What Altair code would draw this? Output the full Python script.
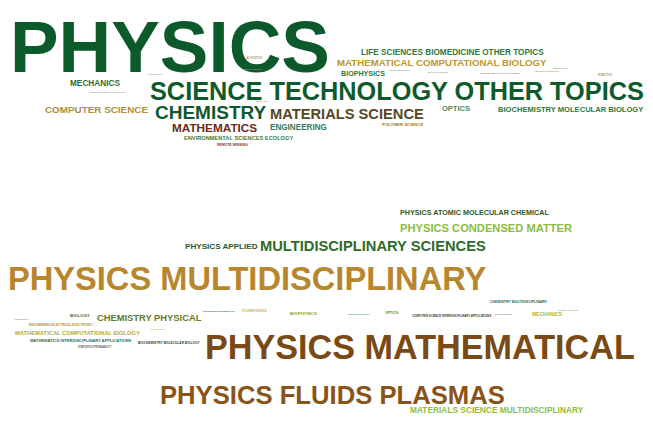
import altair as alt
import pandas as pd

# ---- data: words of the two word clouds and their colours ----
top_words = [
    "PHYSICS", "LIFE SCIENCES BIOMEDICINE OTHER TOPICS", "MATHEMATICAL COMPUTATIONAL BIOLOGY",
    "BIOPHYSICS", "MECHANICS", "SCIENCE TECHNOLOGY OTHER TOPICS", "COMPUTER SCIENCE",
    "CHEMISTRY", "MATERIALS SCIENCE", "OPTICS", "BIOCHEMISTRY MOLECULAR BIOLOGY",
    "MATHEMATICS", "ENGINEERING", "ENVIRONMENTAL SCIENCES ECOLOGY", "REMOTE SENSING",
    "POLYMER SCIENCE", "ACOUSTICS", "ASTRONOMY ASTROPHYSICS", "NUCLEAR SCIENCE TECHNOLOGY",
    "THERMODYNAMICS", "SPECTROSCOPY", "METALLURGY METALLURGICAL ENGINEERING",
    "CRYSTALLOGRAPHY", "METROLOGY", "ROBOTICS", "ENERGY FUELS", "IMAGING SCIENCE",
]
top_colors = [
    "#0c5a2b", "#2e7a3c", "#bf962f", "#2e7a3c", "#2f6e33", "#0f5a2c", "#a8913a",
    "#12582f", "#574822", "#4d8a5b", "#2c7a3c", "#6b2a1b", "#2f7a5e", "#3f7a3a",
    "#7a3a2a", "#a07a2a", "#9a9a80", "#9a9a80", "#9a8a6a", "#b0a070", "#8a9a7a",
    "#8a7a6a", "#b08a4a", "#8a8a6a", "#9a9a7a", "#b0a060", "#9a9a80",
]
bottom_words = [
    "PHYSICS ATOMIC MOLECULAR CHEMICAL", "PHYSICS CONDENSED MATTER", "PHYSICS APPLIED",
    "MULTIDISCIPLINARY SCIENCES", "PHYSICS MULTIDISCIPLINARY", "CHEMISTRY MULTIDISCIPLINARY",
    "BIOLOGY", "CHEMISTRY PHYSICAL", "ENGINEERING ELECTRICAL ELECTRONIC",
    "MATHEMATICAL COMPUTATIONAL BIOLOGY", "MATHEMATICS INTERDISCIPLINARY APPLICATIONS",
    "BIOCHEMISTRY MOLECULAR BIOLOGY", "STATISTICS PROBABILITY", "INSTRUMENTS INSTRUMENTATION",
    "POLYMER SCIENCE", "BIOPHYSICS", "OPTICS", "COMPUTER SCIENCE INTERDISCIPLINARY APPLICATIONS",
    "MECHANICS", "PHYSICS MATHEMATICAL", "PHYSICS FLUIDS PLASMAS",
    "MATERIALS SCIENCE MULTIDISCIPLINARY", "THERMODYNAMICS", "NUCLEAR SCIENCE TECHNOLOGY",
    "ACOUSTICS", "ASTRONOMY ASTROPHYSICS", "MATERIALS SCIENCE COATINGS FILMS", "ELECTROCHEMISTRY",
]
bottom_colors = [
    "#2f5a1f", "#8cbd40", "#1f5a2b", "#2e6a2b", "#b8862c", "#2a6a5a", "#5a6a2a",
    "#617a2b", "#c08a3a", "#b4ad35", "#2a6a5a", "#2a4a3a", "#6a5a3a", "#2a6a6a",
    "#c8b03a", "#8aa02a", "#3a8a3a", "#3a3a2a", "#a8b82a", "#7a4a16", "#8a5418",
    "#8cbd40", "#c8b03a", "#2a7a7a", "#8a8a7a", "#7a9a5a", "#9aa06a", "#6a8a6a",
]

# ---- layout of the clouds: box of each word in page pixels (left, right, top, bottom) ----
top_x0 = [10, 361, 337, 341, 70, 150, 45, 155, 270, 442, 498, 172, 270, 184, 217, 382,
          246, 243, 90, 148, 390, 480, 535, 554, 598, 256, 428]
top_x1 = [330, 544, 550, 385, 120, 645, 148, 267, 425, 470, 644, 259, 327, 294, 248, 424,
          262, 262, 126, 162, 410, 520, 560, 568, 612, 268, 448]
top_t = [16, 49, 58, 70, 80, 82, 105, 104, 108, 106, 106, 122, 123, 135, 143, 122,
         57, 68, 91, 73, 69, 71, 70, 67, 74, 100, 71]
top_b = [75, 56, 67, 76, 87, 100, 113, 120, 120, 111, 113, 133, 131, 140, 146, 126,
         60, 71, 94, 76, 72, 74, 73, 70, 77, 103, 74]

bottom_x0 = [400, 400, 185, 260, 8, 490, 70, 97, 29, 15, 30, 138, 78, 203, 242, 290, 385,
             412, 532, 205, 160, 410, 150, 348, 14, 558, 268, 495]
bottom_x1 = [550, 573, 258, 488, 490, 548, 90, 202, 93, 142, 133, 200, 112, 235, 267, 317,
             398, 492, 562, 640, 505, 585, 165, 370, 28, 578, 280, 512]
bottom_t = [207, 220, 241, 233, 258, 299, 312, 310, 322, 328, 338, 341, 346, 309, 309, 310,
            310, 313, 310, 318, 378, 406, 328, 313, 318, 309, 309, 313]
bottom_b = [218, 237, 251, 259, 299, 304, 318, 325, 327, 337, 344, 345, 349, 313, 313, 317,
            316, 318, 318, 375, 411, 414, 331, 316, 321, 312, 311, 316]

# advance widths (em) of Liberation Sans Bold capitals
W = {c: 0.722 for c in "ABCDHKNRUX"}
W.update({"E": 0.667, "F": 0.611, "G": 0.778, "I": 0.278, "J": 0.556, "L": 0.611,
          "M": 0.833, "O": 0.778, "P": 0.667, "Q": 0.778, "S": 0.667, "T": 0.611,
          "V": 0.667, "W": 0.944, "Y": 0.667, "Z": 0.611, " ": 0.278})
CAP = 0.716


def em_width(s):
    return sum(W.get(ch, 0.6) for ch in s)


def build(words, colors, x0, x1, t, b, part):
    rows = []
    for w, c, a, r, tt, bb in zip(words, colors, x0, x1, t, b):
        fs = (r - a) / em_width(w)
        base = (tt + bb) / 2 + CAP * fs / 2
        rows.append({"word": w, "color": c, "x": a, "y": base, "fs": fs, "part": part})
    return rows


df = pd.DataFrame(build(top_words, top_colors, top_x0, top_x1, top_t, top_b, "top")
                  + build(bottom_words, bottom_colors, bottom_x0, bottom_x1, bottom_t, bottom_b, "bottom"))

chart = alt.Chart(df).mark_text(
    align="left", baseline="alphabetic", fontWeight="bold",
    font="Liberation Sans, Arial, sans-serif",
).encode(
    x=alt.X("x:Q", scale=alt.Scale(domain=[8, 645], nice=False, zero=False), axis=None),
    y=alt.Y("y:Q", scale=alt.Scale(domain=[8, 414], nice=False, zero=False, reverse=True), axis=None),
    text="word:N",
    size=alt.Size("fs:Q", scale=None),
    color=alt.Color("color:N", scale=None),
).properties(
    width=637, height=406, padding=0,
    autosize=alt.AutoSizeParams(type="none"),
).configure_view(stroke=None)

chart.save("out.html", embed_options={"renderer": "svg", "actions": False})
